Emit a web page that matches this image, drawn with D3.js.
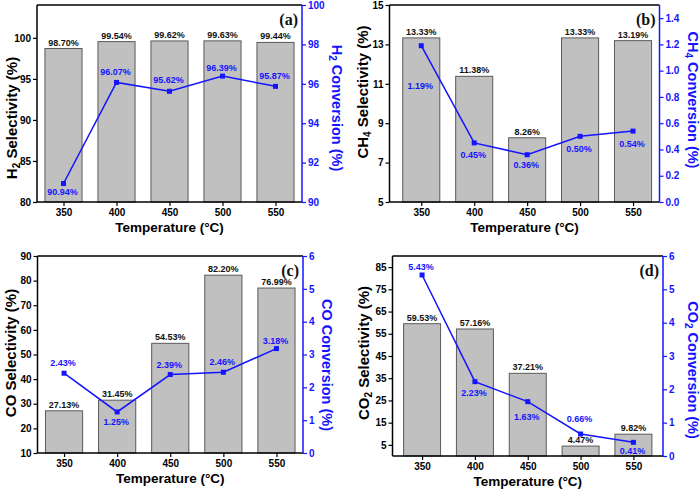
<!DOCTYPE html>
<html>
<head>
<meta charset="utf-8">
<script src="https://cdn.jsdelivr.net/npm/d3@7"></script>
<style>
  body { margin: 0; background: #fff; }
  svg { display: block; font-family: "Liberation Sans", Arial, sans-serif; font-weight: bold; }
</style>
</head>
<body>
<div id="chart"></div>
<script>
// data
var temps = [350, 400, 450, 500, 550];

var h2Sel = [98.70, 99.54, 99.62, 99.63, 99.44];
var h2Conv = [90.94, 96.07, 95.62, 96.39, 95.87];

var ch4Sel = [13.33, 11.38, 8.26, 13.33, 13.19];
var ch4Conv = [1.19, 0.45, 0.36, 0.50, 0.54];

var coSel = [27.13, 31.45, 54.53, 82.20, 76.99];
var coConv = [2.43, 1.25, 2.39, 2.46, 3.18];

var co2Sel = [59.53, 57.16, 37.21, 4.47, 9.82];
var co2Conv = [5.43, 2.23, 1.63, 0.66, 0.41];

var h2SelTicks = [80, 85, 90, 95, 100];
var h2ConvTicks = [90, 92, 94, 96, 98, 100];
var ch4SelTicks = [5, 7, 9, 11, 13, 15];
var ch4ConvTicks = [0.0, 0.2, 0.4, 0.6, 0.8, 1.0, 1.2, 1.4];
var coSelTicks = [10, 20, 30, 40, 50, 60, 70, 80, 90];
var coConvTicks = [0, 1, 2, 3, 4, 5, 6];
var co2SelTicks = [5, 15, 25, 35, 45, 55, 65, 75, 85];
var co2ConvTicks = [0, 1, 2, 3, 4, 5, 6];

var blue = '#1414ff';
var width = 700, height = 495;

var svg = d3.select('#chart').append('svg')
    .attr('width', width)
    .attr('height', height);

var panels = [
    { tag: '(a)', gas: 'H', sub: '2', sel: h2Sel, conv: h2Conv,
      box: { l: 37, r: 302, t: 5, b: 202 }, xDom: [325, 575],
      yDom: [80, 104], yTicks: h2SelTicks, yMinor: 2.5, yFmt: d3.format('d'),
      cDom: [90, 100], cTicks: h2ConvTicks, cMinor: 1, cFmt: d3.format('d'),
      labDy: [12, -7, -8, -5, -7], lTitleY: 118, rTitleY: 108, lTitleX: 12, rTitleX: 337 },
    { tag: '(b)', gas: 'CH', sub: '4', sel: ch4Sel, conv: ch4Conv,
      box: { l: 389.5, r: 659.5, t: 5, b: 202 }, xDom: [320, 575],
      yDom: [5, 15], yTicks: ch4SelTicks, yMinor: 1, yFmt: d3.format('d'),
      cDom: [0, 1.5], cTicks: ch4ConvTicks, cMinor: 0.1, cFmt: d3.format('.1f'),
      labDy: [43, 15, 13, 16, 16], lTitleY: 92, rTitleY: 100, lTitleX: 363, rTitleX: 693 },
    { tag: '(c)', gas: 'CO', sub: '', sel: coSel, conv: coConv,
      box: { l: 37.5, r: 303, t: 256, b: 453 }, xDom: [325, 575],
      yDom: [10, 90], yTicks: coSelTicks, yMinor: 5, yFmt: d3.format('d'),
      cDom: [0, 6], cTicks: coConvTicks, cMinor: 0.5, cFmt: d3.format('d'),
      labDy: [-7, 13, -7, -7, -5], lTitleY: 353, rTitleY: 365, lTitleX: 11, rTitleX: 327 },
    { tag: '(d)', gas: 'CO', sub: '2', sel: co2Sel, conv: co2Conv,
      box: { l: 392.5, r: 663, t: 256, b: 456 }, xDom: [322, 578],
      yDom: [0, 90], yTicks: co2SelTicks, yMinor: 5, yFmt: d3.format('d'),
      cDom: [0, 6], cTicks: co2ConvTicks, cMinor: 0.5, cFmt: d3.format('d'),
      labDy: [-5, 14, 18, -12, 12], lTitleY: 353, rTitleY: 370, lTitleX: 364, rTitleX: 693 }
];

panels.forEach(function (p) {
    var b = p.box;
    var g = svg.append('g');

    var x = d3.scaleLinear().domain(p.xDom).range([b.l, b.r]);
    var y = d3.scaleLinear().domain(p.yDom).range([b.b, b.t]);
    var yc = d3.scaleLinear().domain(p.cDom).range([b.b, b.t]);
    var barW = x(385) - x(350);

    // bars
    g.selectAll('rect.bar')
        .data(p.sel)
        .enter().append('rect')
        .attr('class', 'bar')
        .attr('x', function (d, i) { return x(temps[i]) - barW / 2; })
        .attr('y', function (d) { return y(d); })
        .attr('width', barW)
        .attr('height', function (d) { return b.b - y(d); })
        .attr('fill', '#c0c0c0')
        .attr('stroke', '#5a5a5a')
        .attr('stroke-width', 1);

    g.selectAll('text.barlab')
        .data(p.sel)
        .enter().append('text')
        .attr('class', 'barlab')
        .attr('x', function (d, i) { return x(temps[i]); })
        .attr('y', function (d) { return y(d) - 3; })
        .attr('text-anchor', 'middle')
        .attr('font-size', 9)
        .attr('fill', '#111')
        .text(function (d) { return d.toFixed(2) + '%'; });

    // left axis
    var yMinorTicks = d3.range(p.yDom[0], p.yDom[1] + 1e-9, p.yMinor);
    var yAxisMinor = d3.axisLeft(y).tickValues(yMinorTicks).tickSize(2).tickFormat('');
    var yAxis = d3.axisLeft(y).tickValues(p.yTicks).tickSize(4).tickPadding(2).tickFormat(p.yFmt);
    var ga = g.append('g').attr('transform', 'translate(' + b.l + ',0)');
    ga.call(yAxisMinor);
    ga.call(yAxis);
    ga.selectAll('.domain').remove();
    ga.selectAll('text').attr('font-size', 10).attr('font-weight', 'bold').attr('font-family', null);
    ga.selectAll('line').attr('stroke-width', 1.2);

    // right axis
    var cMinorTicks = d3.range(p.cDom[0], p.cDom[1] + 1e-9, p.cMinor);
    var cAxisMinor = d3.axisRight(yc).tickValues(cMinorTicks).tickSize(2).tickFormat('');
    var cAxis = d3.axisRight(yc).tickValues(p.cTicks).tickSize(4).tickPadding(2).tickFormat(p.cFmt);
    var gr = g.append('g').attr('transform', 'translate(' + b.r + ',0)');
    gr.call(cAxisMinor);
    gr.call(cAxis);
    gr.selectAll('.domain').remove();
    gr.selectAll('line').attr('stroke', blue).attr('stroke-width', 1.2);
    gr.selectAll('text').attr('fill', blue).attr('font-size', 10).attr('font-weight', 'bold').attr('font-family', null);

    // bottom axis
    var xAxis = d3.axisBottom(x).tickValues(temps).tickSize(4).tickPadding(3).tickFormat(d3.format('d'));
    var gx = g.append('g').attr('transform', 'translate(0,' + b.b + ')');
    gx.call(xAxis);
    gx.selectAll('.domain').remove();
    gx.selectAll('line').attr('stroke-width', 1.2);
    gx.selectAll('text').attr('font-size', 10).attr('font-weight', 'bold').attr('font-family', null);

    // frame
    g.append('line').attr('x1', b.l).attr('x2', b.r).attr('y1', b.t).attr('y2', b.t)
        .attr('stroke', '#000').attr('stroke-width', 1.5);
    g.append('line').attr('x1', b.l).attr('x2', b.r).attr('y1', b.b).attr('y2', b.b)
        .attr('stroke', '#000').attr('stroke-width', 1.5);
    g.append('line').attr('x1', b.l).attr('x2', b.l).attr('y1', b.t).attr('y2', b.b)
        .attr('stroke', '#000').attr('stroke-width', 1.5);
    g.append('line').attr('x1', b.r).attr('x2', b.r).attr('y1', b.t).attr('y2', b.b)
        .attr('stroke', blue).attr('stroke-width', 1.5);

    // conversion line
    var line = d3.line()
        .x(function (d, i) { return x(temps[i]); })
        .y(function (d) { return yc(d); });
    g.append('path')
        .datum(p.conv)
        .attr('d', line)
        .attr('fill', 'none')
        .attr('stroke', blue)
        .attr('stroke-width', 1.5);
    g.selectAll('rect.mark')
        .data(p.conv)
        .enter().append('rect')
        .attr('class', 'mark')
        .attr('x', function (d, i) { return x(temps[i]) - 2.5; })
        .attr('y', function (d) { return yc(d) - 2.5; })
        .attr('width', 5)
        .attr('height', 5)
        .attr('fill', blue);
    g.selectAll('text.convlab')
        .data(p.conv)
        .enter().append('text')
        .attr('class', 'convlab')
        .attr('x', function (d, i) { return x(temps[i]) - 1; })
        .attr('y', function (d, i) { return yc(d) + p.labDy[i]; })
        .attr('text-anchor', 'middle')
        .attr('font-size', 9)
        .attr('fill', blue)
        .text(function (d) { return d.toFixed(2) + '%'; });

    // panel tag
    g.append('text')
        .attr('x', b.r - 4)
        .attr('y', b.t + 20)
        .attr('text-anchor', 'end')
        .attr('font-family', '"Liberation Serif", "Times New Roman", serif')
        .attr('font-size', 16)
        .attr('fill', '#111')
        .text(p.tag);

    // x title
    g.append('text')
        .attr('x', (b.l + b.r) / 2)
        .attr('y', b.b + 30)
        .attr('text-anchor', 'middle')
        .attr('font-size', 13.5)
        .text('Temperature (\u00B0C)');

    // left title
    var lt = g.append('text')
        .attr('transform', 'translate(' + p.lTitleX + ',' + p.lTitleY + ') rotate(-90)')
        .attr('dy', '0.35em')
        .attr('text-anchor', 'middle')
        .attr('font-size', 15);
    lt.append('tspan').text(p.gas);
    if (p.sub) lt.append('tspan').attr('font-size', 10).attr('dy', 3).text(p.sub);
    lt.append('tspan').attr('dy', p.sub ? -3 : 0).text(' Selectivity (%)');

    // right title
    var rt = g.append('text')
        .attr('transform', 'translate(' + p.rTitleX + ',' + p.rTitleY + ') rotate(90)')
        .attr('dy', '0.35em')
        .attr('text-anchor', 'middle')
        .attr('font-size', 14.5)
        .attr('fill', blue);
    rt.append('tspan').text(p.gas);
    if (p.sub) rt.append('tspan').attr('font-size', 10).attr('dy', 3).text(p.sub);
    rt.append('tspan').attr('dy', p.sub ? -3 : 0).text(' Conversion (%)');
});
</script>
</body>
</html>
